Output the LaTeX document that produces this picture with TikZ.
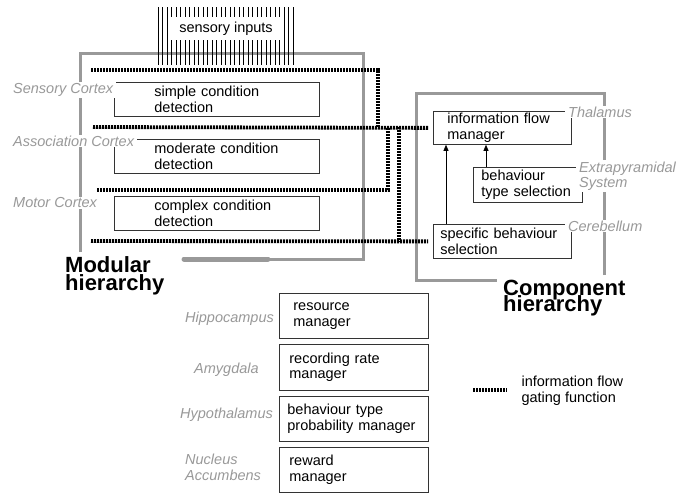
\documentclass[tikz,border=0pt]{standalone}
\usepackage{fontspec}
\setmainfont{Liberation Sans}
\usetikzlibrary{arrows.meta, calc}
\setlength{\lineskiplimit}{-100pt}

\begin{document}
\begin{tikzpicture}[x=1pt, y=-1pt, >=Latex, font=\fontsize{14.5}{15.5}\selectfont,
	unit/.style={draw=black!80, line width=0.8pt, anchor=north west, align=left, inner ysep=1pt},
	area/.style={text=black!40, font=\fontsize{14.5}{15.5}\selectfont\itshape, fill=white,
		inner xsep=3pt, inner ysep=1pt, align=left},
	frame/.style={draw=black!40, line width=3pt},
	gating/.style={line width=3.8pt, dash pattern=on 2.2pt off 0.8pt},
	flow/.style={-{Triangle[length=6pt,width=5pt]}, line width=0.7pt},
	title/.style={font=\fontsize{22}{#1}\selectfont\bfseries,
		align=left, inner sep=0pt, anchor=north west}]

\useasboundingbox (0,0) rectangle (688,493);

%========================
% Left: modular hierarchy
%========================
\begin{scope}
	% frame
	\draw[frame] (80,252) |- (363,53) |- (182,259);
	\draw[frame, line width=5pt, line cap=round] (184,259) -- (268,259);
	\node[title=18] (modular) at (65,256) {Modular\\hierarchy};
	
	% sensory inputs
	\foreach \i in {0,...,30}
		\draw[line width=0.6pt] (158+4.5*\i,7) -- (158+4.5*\i,65);
	\node[fill=white, minimum width=115, minimum height=23, inner sep=0pt] (sens) at (226,28.5) {sensory inputs};
	
	% cortex units
	\node[unit, minimum height=34, inner xsep=40pt, text width=125pt] (simple) at (114,82)
		{simple condition\\detection};
	\node[unit, minimum height=34, inner xsep=40pt, text width=125pt] (moderate) at (114,139)
		{moderate condition\\detection};
	\node[unit, minimum height=34, inner xsep=40pt, text width=125pt] (complex) at (114,196)
		{complex condition\\detection};
	
	\node[area, anchor=west] (sensory) at (10,90) {Sensory Cortex};
	\node[area, anchor=west] (assoc) at (10,141) {Association Cortex};
	\node[area, anchor=west] (motor) at (10,203) {Motor Cortex};
\end{scope}

%========================
% Right: component hierarchy
%========================
\begin{scope}
	% frame
	\draw[frame] (604,275) |- (416,93) |- (497,280);
	\node[title=16] (component) at (503,280) {Component\\hierarchy};
	
	\node[unit, minimum height=33, inner xsep=14pt, text width=110pt] (flowmgr) at (433,111)
		{information flow\\manager};
	\node[unit, minimum height=35, inner xsep=8pt, text width=93pt] (typesel) at (473,167)
		{behaviour\\type selection};
	\node[unit, minimum height=34, inner xsep=7pt, text width=124pt] (specsel) at (433,224)
		{specific behaviour\\selection};
	
	\node[area, anchor=west] (thalamus) at (565,112) {Thalamus};
	\node[area, anchor=west] (extrapyr) at (576,176) {Extrapyramidal\\System};
	\node[area, anchor=west] (cerebellum) at (565,226) {Cerebellum};
	
	% behaviour selection feeds the flow manager
	\draw[flow] ([xshift=13pt]specsel.north west) -- ([xshift=13pt]flowmgr.south west);
	\draw[flow] ([xshift=13pt]typesel.north west) -- ([xshift=13pt]typesel.north west |- flowmgr.south);
\end{scope}

%========================
% Gating lines
%========================
\coordinate (g1) at (91,70);
\coordinate (g2) at (93,127);
\coordinate (g3) at (97,190);
\coordinate (g4) at (91,241);
\coordinate (j1) at (378,127);
\coordinate (j3) at (388,127);
\coordinate (j4) at (399,127);
\draw[gating] (g1) -| (j1);
\draw[gating, shorten >=5pt] (g2) -- (flowmgr.west);
\draw[gating] (g3) -| (j3);
\draw[gating, shorten >=5pt] (g4) -- (specsel.west);
\draw[gating] (j4) -- (j4 |- specsel.west);

%========================
% Bottom: managers
%========================
\node[unit, minimum height=45, inner xsep=14pt, text width=121pt] (resource) at (279,293)
	{resource\\manager};
\node[unit, minimum height=46, inner xsep=10pt, text width=129pt] (recording) at (279,344)
	{recording rate\\manager};
\node[unit, minimum height=45, inner xsep=8pt, text width=133pt] (probability) at (279,396)
	{behaviour type\\probability manager};
\node[unit, minimum height=45, inner xsep=10pt, text width=129pt] (reward) at (279,447)
	{reward\\manager};

\node[area, anchor=west] (hippo) at (182,319) {Hippocampus};
\node[area, anchor=west] (amygdala) at (191,370) {Amygdala};
\node[area, anchor=west] (hypo) at (177,415) {Hypothalamus};
\node[area, anchor=west] (nucleus) at (182,467.5) {Nucleus\\Accumbens};

%========================
% Legend
%========================
\coordinate (lg1) at (473,390);
\coordinate (lg2) at (507,390);
\draw[gating] (lg1) -- (lg2);
\node[anchor=west, align=left] (legend) at (518,390.5) {information flow\\gating function};

\end{tikzpicture}
\end{document}
